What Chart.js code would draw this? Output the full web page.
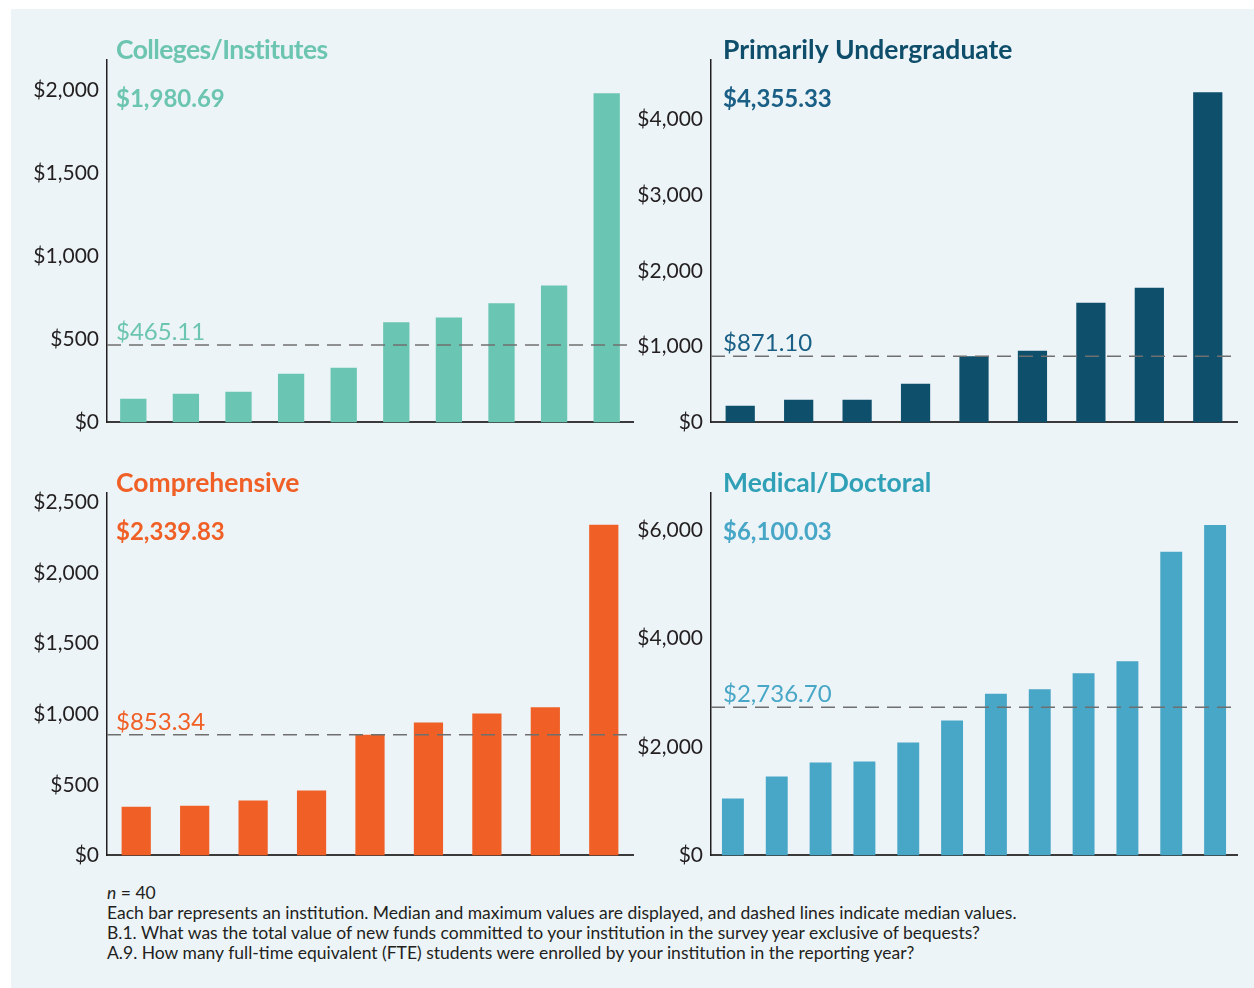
<!DOCTYPE html>
<html>
<head>
<meta charset="utf-8">
<script src="https://cdn.jsdelivr.net/npm/chart.js@4"></script>
<style>
    html, body { margin: 0; padding: 0; background: #ffffff; }
    body { width: 1254px; height: 988px; position: relative; overflow: hidden; font-family: Lato, sans-serif; }
    #panel { position: absolute; left: 11px; top: 9px; width: 1243px; height: 979px; background: #ecf4f8; }
    .box { position: absolute; }
    #boxColleges { left: 12px; top: 20px; width: 628px; height: 423px; }
    #boxUndergrad { left: 620px; top: 20px; width: 634px; height: 423px; }
    #boxComprehensive { left: 12px; top: 450px; width: 628px; height: 426px; }
    #boxMedical { left: 620px; top: 450px; width: 634px; height: 426px; }
    #notes { position: absolute; left: 107px; top: 883px; font-size: 17.5px; line-height: 20px; color: #231f20; }
</style>
</head>
<body>
<div id="panel"></div>
<div class="box" id="boxColleges"><canvas id="chartColleges"></canvas></div>
<div class="box" id="boxUndergrad"><canvas id="chartUndergrad"></canvas></div>
<div class="box" id="boxComprehensive"><canvas id="chartComprehensive"></canvas></div>
<div class="box" id="boxMedical"><canvas id="chartMedical"></canvas></div>
<div id="notes">
    <div><i>n</i> = 40</div>
    <div>Each bar represents an institution. Median and maximum values are displayed, and dashed lines indicate median values.</div>
    <div>B.1. What was the total value of new funds committed to your institution in the survey year exclusive of bequests?</div>
    <div>A.9. How many full-time equivalent (FTE) students were enrolled by your institution in the reporting year?</div>
</div>
<script>
// Values per institution, sorted ascending (dollars per FTE student)
const collegesValues = [143, 173, 185, 293, 328, 602, 631, 716, 824, 1980.69];
const undergradValues = [220, 299, 299, 510, 871.10, 946, 1579, 1777, 4355.33];
const comprehensiveValues = [345, 352, 388, 459, 853.34, 941, 1005, 1048, 2339.83];
const medicalValues = [1049, 1457, 1716, 1735, 2086, 2490, 2983, 3068, 3364, 3586, 5605, 6100.03];

// Median values (dashed lines)
const collegesMedian = 465.11;
const undergradMedian = 871.10;
const comprehensiveMedian = 853.34;
const medicalMedian = 2736.70;

// Y axis ticks
const collegesTicks = [0, 500, 1000, 1500, 2000];
const undergradTicks = [0, 1000, 2000, 3000, 4000];
const comprehensiveTicks = [0, 500, 1000, 1500, 2000, 2500];
const medicalTicks = [0, 2000, 4000, 6000];

const money = (v, digits) => '$' + v.toLocaleString('en-US', { minimumFractionDigits: digits, maximumFractionDigits: digits });

// Draws the panel title, the max label and the dashed median line
const panelLabels = {
    id: 'panelLabels',
    afterDatasetsDraw(chart, args, opts) {
        const { ctx, chartArea, scales } = chart;
        const x = chartArea.left + opts.textOffset;
        ctx.save();
        ctx.textAlign = 'left';
        ctx.textBaseline = 'alphabetic';

        ctx.fillStyle = opts.titleColor;
        ctx.font = 'bold 26.5px Lato';
        ctx.letterSpacing = opts.titleSpacing;
        ctx.fillText(opts.title, x, chartArea.top - 1);
        ctx.letterSpacing = '0px';

        ctx.fillStyle = opts.labelColor;
        ctx.font = 'bold 24px Lato';
        ctx.fillText(money(opts.max, 2), x, chartArea.top + 47);

        const y = scales.y.getPixelForValue(opts.median);
        ctx.strokeStyle = '#6f6f6f';
        ctx.lineWidth = 1.5;
        ctx.setLineDash([14, 8]);
        ctx.beginPath();
        ctx.moveTo(chartArea.left, y);
        ctx.lineTo(chartArea.right, y);
        ctx.stroke();

        ctx.font = '24px Lato';
        ctx.fillText(money(opts.median, 2), x, y - 5);
        ctx.restore();
    }
};

function makeChart(canvasId, values, opts) {
    new Chart(document.getElementById(canvasId), {
        type: 'bar',
        data: {
            labels: values.map((_, i) => String(i + 1)),
            datasets: [{
                data: values,
                backgroundColor: opts.barColor,
                barPercentage: 0.5,
                categoryPercentage: 1
            }]
        },
        options: {
            responsive: true,
            maintainAspectRatio: false,
            animation: false,
            layout: { padding: opts.padding },
            plugins: {
                legend: { display: false },
                tooltip: { enabled: false },
                panelLabels: {
                    title: opts.title,
                    titleColor: opts.titleColor,
                    titleSpacing: opts.titleSpacing || '0px',
                    labelColor: opts.labelColor,
                    textOffset: opts.textOffset,
                    max: Math.max(...values),
                    median: opts.median
                }
            },
            scales: {
                x: {
                    grid: { display: false, drawTicks: false },
                    ticks: { display: false },
                    border: { display: true, color: '#3a3a3a', width: 2 },
                    afterFit: (s) => { s.height = 0; }
                },
                y: {
                    min: 0,
                    max: opts.yMax,
                    grid: { display: false, drawTicks: false },
                    border: { display: true, color: '#231f20', width: 1.5 },
                    ticks: {
                        padding: 8,
                        color: '#231f20',
                        font: { family: 'Lato', size: 21 },
                        callback: (v) => money(v, 0)
                    },
                    afterBuildTicks: (s) => { s.ticks = opts.ticks.map(v => ({ value: v })); },
                    afterFit: (s) => { s.width = opts.axisWidth; }
                }
            }
        },
        plugins: [panelLabels]
    });
}

makeChart('chartColleges', collegesValues, {
    title: 'Colleges/Institutes', titleColor: '#6cc5b0', labelColor: '#6cc5b0', barColor: '#6ac6b2',
    titleSpacing: '-0.6px', textOffset: 9,
    median: collegesMedian, ticks: collegesTicks, yMax: 2180, axisWidth: 95,
    padding: { top: 40, right: 7, bottom: 0, left: 0 }
});
makeChart('chartUndergrad', undergradValues, {
    title: 'Primarily Undergraduate', titleColor: '#0f4e6a', labelColor: '#1a5f85', barColor: '#0e4f6b',
    textOffset: 12,
    median: undergradMedian, ticks: undergradTicks, yMax: 4780, axisWidth: 91,
    padding: { top: 40, right: 17, bottom: 0, left: 0 }
});
makeChart('chartComprehensive', comprehensiveValues, {
    title: 'Comprehensive', titleColor: '#f06026', labelColor: '#f06026', barColor: '#f06026',
    textOffset: 9,
    median: comprehensiveMedian, ticks: comprehensiveTicks, yMax: 2565, axisWidth: 95,
    padding: { top: 43, right: 7, bottom: 0, left: 0 }
});
makeChart('chartMedical', medicalValues, {
    title: 'Medical/Doctoral', titleColor: '#2fa0b6', labelColor: '#48a6c6', barColor: '#48a6c6',
    textOffset: 12,
    median: medicalMedian, ticks: medicalTicks, yMax: 6690, axisWidth: 91,
    padding: { top: 43, right: 17, bottom: 0, left: 0 }
});
</script>
</body>
</html>
